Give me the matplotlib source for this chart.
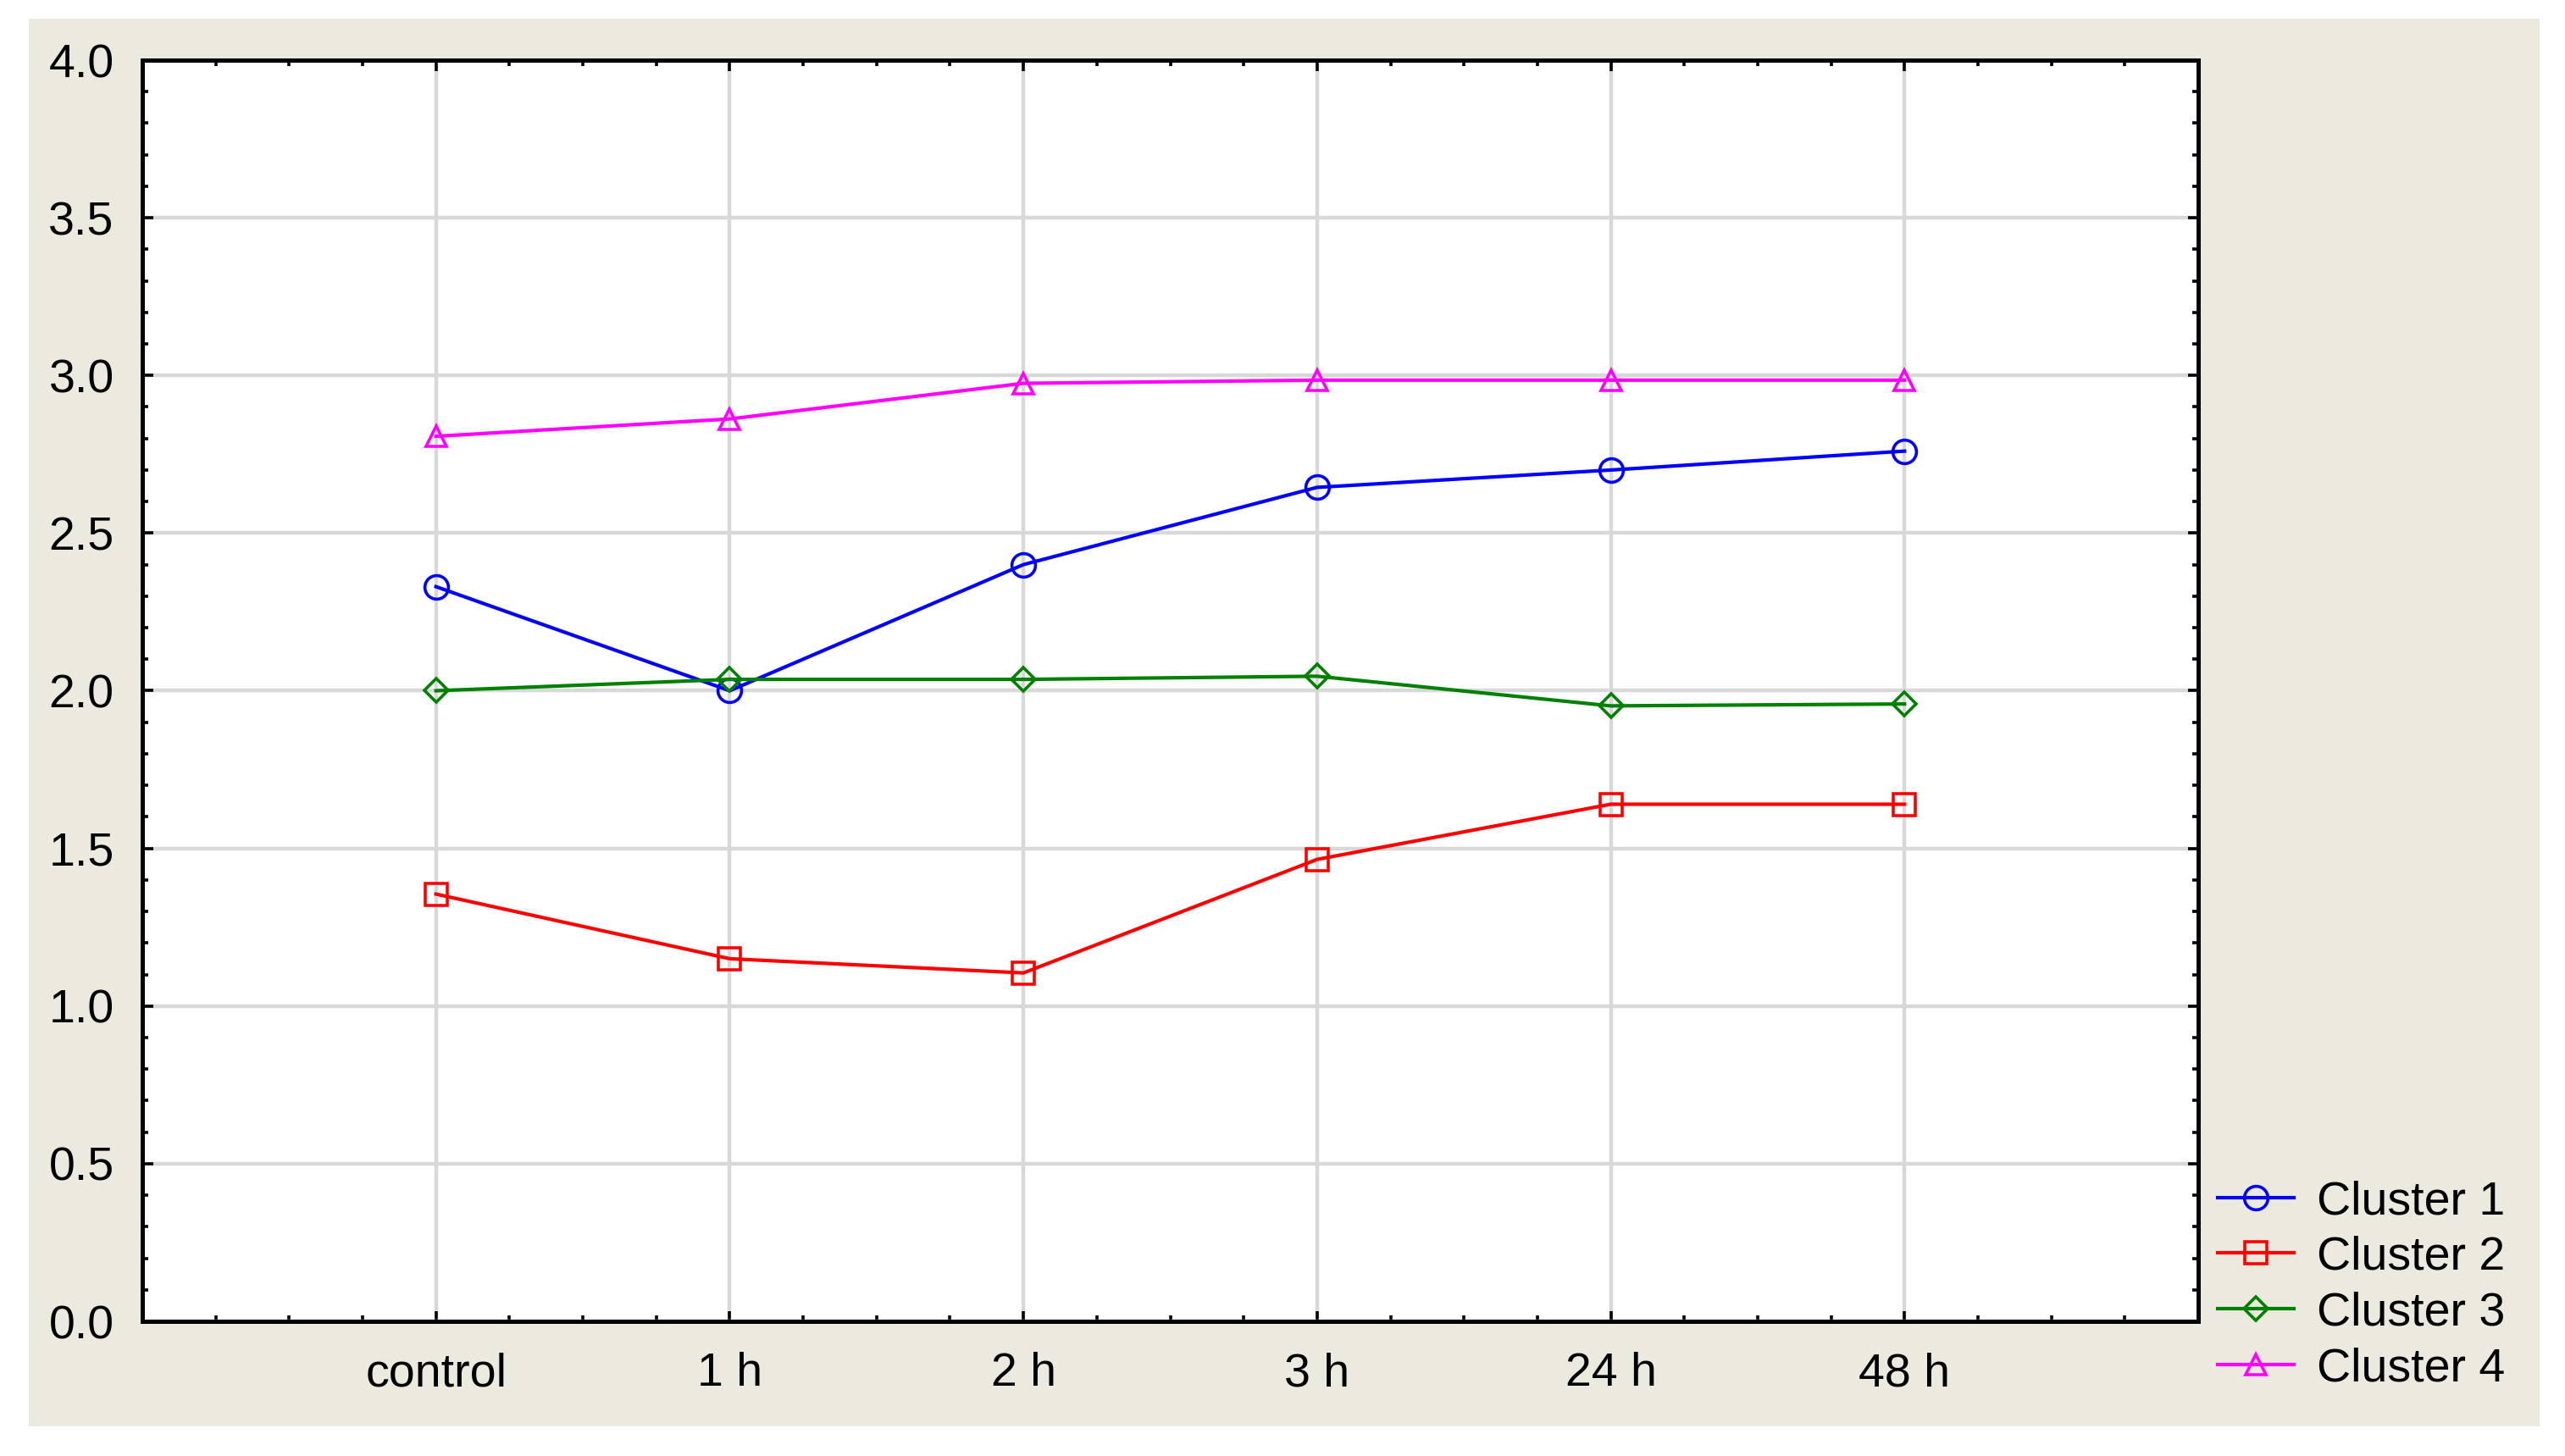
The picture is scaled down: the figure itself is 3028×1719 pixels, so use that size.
import matplotlib
matplotlib.use("Agg")
import matplotlib.pyplot as plt
from matplotlib.patches import Rectangle
from matplotlib.ticker import MultipleLocator

plt.rcParams['font.family'] = ['Liberation Sans', 'DejaVu Sans']

# data
categories = ['control', '1 h', '2 h', '3 h', '24 h', '48 h']
cluster1 = [2.33, 2.00, 2.40, 2.645, 2.70, 2.76]
cluster2 = [1.355, 1.15, 1.105, 1.465, 1.64, 1.64]
cluster3 = [2.00, 2.036, 2.036, 2.046, 1.952, 1.958]
cluster4 = [2.807, 2.862, 2.975, 2.985, 2.985, 2.985]
series_names = ['Cluster 1', 'Cluster 2', 'Cluster 3', 'Cluster 4']

W, H = 3028, 1719
fig = plt.figure(figsize=(W / 100, H / 100), dpi=100)
fig.patch.set_facecolor('white')

# beige panel behind everything
fig.patches.append(Rectangle((34 / W, 1 - 1684 / H), (2998 - 34) / W, (1684 - 22) / H,
                             transform=fig.transFigure, facecolor='#ECEADF',
                             edgecolor='none', zorder=-10))

ax = fig.add_axes([168 / W, 1 - 1560 / H, (2595 - 168) / W, (1560 - 71) / H])
ax.set_facecolor('white')

x = list(range(len(categories)))
styles = [
    (cluster1, '#0000FF', 'o', 20),
    (cluster2, '#FF0000', 's', 19),
    (cluster3, '#008000', 'D', 14),
    (cluster4, '#FF00FF', '^', 17),
]
for (vals, col, mk, ms), name in zip(styles, series_names):
    ax.plot(x, vals, color=col, lw=3.0, marker=mk, ms=ms, mfc='none',
            mec=col, mew=2.6, label=name, zorder=3)

ax.set_xlim(-1, 6)
ax.set_ylim(0, 4)
ax.set_xticks(x)
ax.set_xticklabels(categories)
ax.xaxis.set_minor_locator(MultipleLocator(0.25))
ax.yaxis.set_major_locator(MultipleLocator(0.5))
ax.yaxis.set_minor_locator(MultipleLocator(0.1))
ax.yaxis.set_major_formatter(plt.FormatStrFormatter('%.1f'))

ax.grid(True, which='major', color='#D8D8D8', lw=3.2, zorder=0)
ax.set_axisbelow(True)

ax.tick_params(which='both', direction='in', top=True, right=True,
               width=2.6, color='black')
ax.tick_params(which='major', length=9, labelsize=40, pad=24)
ax.tick_params(which='minor', length=5)
ax.tick_params(axis='x', which='major', pad=26)

for sp in ax.spines.values():
    sp.set_linewidth(3.6)
    sp.set_color('black')

fig.legend(loc='upper left', bbox_to_anchor=(2618 / W, 1 - 1393 / H),
           frameon=False, fontsize=40, handlelength=1.62, handletextpad=0.48,
           labelspacing=0.25, borderpad=0, borderaxespad=0)

fig.savefig('out.png', dpi=100)
